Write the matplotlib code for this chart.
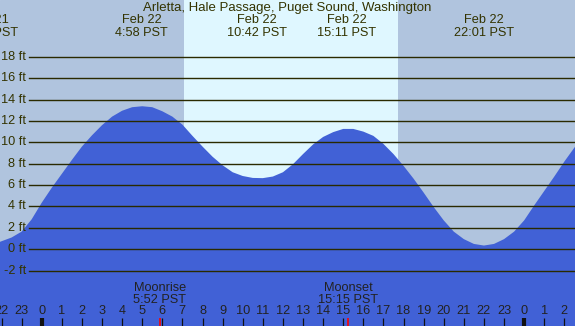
import matplotlib
matplotlib.use("Agg")
import matplotlib.pyplot as plt

# tide height (ft), hours from Feb 22 00:00 PST
tide_hours = [-2.1, -2.0, -1.5, -1.0, -0.5, 0.0, 0.5, 1.0, 1.5, 2.0, 2.5, 3.0, 3.5,
              4.0, 4.5, 5.0, 5.5, 6.0, 6.5, 7.0, 7.5, 8.0, 8.5, 9.0, 9.5, 10.0,
              10.5, 11.0, 11.5, 12.0, 12.5, 13.0, 13.5, 14.0, 14.5, 15.0, 15.5,
              16.0, 16.5, 17.0, 17.5, 18.0, 18.5, 19.0, 19.5, 20.0, 20.5, 21.0,
              21.5, 22.0, 22.5, 23.0, 23.5, 24.0, 24.5, 25.0, 25.5, 26.0, 26.5, 26.7]
tide_ft = [0.68, 0.75, 1.1, 1.65, 2.8, 4.35, 5.75, 7.05, 8.35, 9.6, 10.65, 11.6, 12.4,
           12.95, 13.28, 13.37, 13.28, 12.9, 12.4, 11.65, 10.6, 9.6, 8.65, 7.85, 7.2, 6.85,
           6.67, 6.65, 6.8, 7.2, 7.95, 8.9, 9.8, 10.5, 10.95, 11.25, 11.25,
           11.0, 10.6, 9.85, 8.9, 7.8, 6.6, 5.3, 3.95, 2.7, 1.65, 0.95,
           0.5, 0.35, 0.5, 0.95, 1.65, 2.7, 4.1, 5.45, 6.8, 8.2, 9.5, 10.05]

# high / low tide labels along the top
extreme_hours = [-2.65, 4.97, 10.7, 15.18, 22.02]
extreme_dates = ["Feb 21", "Feb 22", "Feb 22", "Feb 22", "Feb 22"]
extreme_times = ["21:25 PST", "4:58 PST", "10:42 PST", "15:11 PST", "22:01 PST"]

moon_hours = [5.87, 15.25]
moon_events = ["Moonrise", "Moonset"]
moon_times = ["5:52 PST", "15:15 PST"]

sunrise, sunset = 7.08, 17.73

grid_ft = [-2, 0, 2, 4, 6, 8, 10, 12, 14, 16, 18]
hour_ticks = list(range(-2, 27))

x_min, x_max = -2.075, 26.53
y_min, y_max = -7.17, 23.3

night_color = "#B0C4DE"
day_color = "#DFF7FF"
water_color = "#4161D6"
text_color = "#333300"

fig = plt.figure(figsize=(5.75, 3.26), dpi=100)
ax = fig.add_axes([0, 0, 1, 1])
ax.set_xlim(x_min, x_max)
ax.set_ylim(y_min, y_max)
ax.set_axis_off()
ax.add_patch(plt.Rectangle((0, 0), 1, 1, transform=ax.transAxes, color=night_color, zorder=0))
ax.axvspan(sunrise, sunset, color=day_color, lw=0, zorder=1)

ax.fill_between(tide_hours, tide_ft, y_min, color=water_color, lw=0, zorder=2)

font = "Liberation Sans"
fs = 9.2
for v in grid_ft:
    ax.axhline(v, xmin=29 / 575, xmax=1, color="#2a2a00", lw=1.0, zorder=3)
    ax.text(-0.77, v, f"{v} ft", ha="right", va="center", fontsize=fs,
            family=font, color=text_color, zorder=4)

ax.text(0.5, 1 - 8.5 / 326, "Arletta, Hale Passage, Puget Sound, Washington", transform=ax.transAxes,
        ha="center", va="center", fontsize=9.5, family=font, color=text_color, zorder=4)
for h, d, t in zip(extreme_hours, extreme_dates, extreme_times):
    ax.text(h, 21.4, d, ha="center", va="center", fontsize=fs, family=font,
            color=text_color, zorder=4)
    ax.text(h, 20.2, t, ha="center", va="center", fontsize=fs, family=font,
            color=text_color, zorder=4)

for h, e, t in zip(moon_hours, moon_events, moon_times):
    ax.text(h, -3.62, e, ha="center", va="center", fontsize=fs, family=font,
            color="#222222", zorder=4)
    ax.text(h, -4.72, t, ha="center", va="center", fontsize=fs, family=font,
            color="#222222", zorder=4)
    ax.vlines(h, -7.17, -6.42, color="red", lw=1.2, zorder=4)

for h in hour_ticks:
    lab = str(h % 24)
    ax.text(h, -5.8, lab, ha="center", va="center", fontsize=fs, family=font,
            color="#222222", zorder=4)
    lw = 3.0 if h % 24 == 0 else 0.9
    ax.vlines(h, -7.17, -6.42, color="#111111", lw=lw, zorder=4)

fig.savefig("out.png", dpi=100)
